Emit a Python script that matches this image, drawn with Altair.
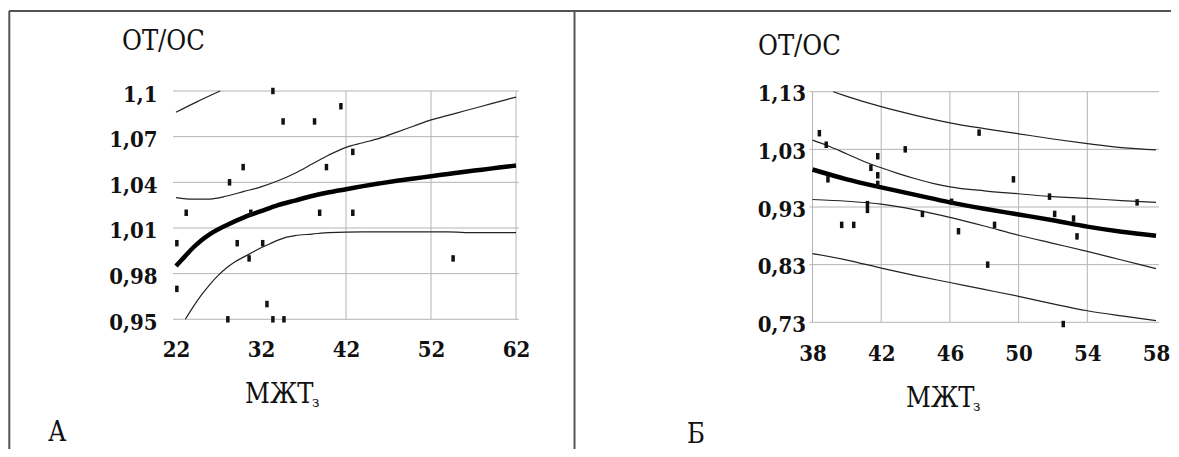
import altair as alt
import pandas as pd

# ---------------- Panel A ----------------
a_pts_x = [23.2, 22.1, 22.1, 28.3, 29.9, 30.8, 29.2, 30.6, 32.2, 32.7, 28.1, 33.4, 34.7,
           33.4, 34.6, 38.3, 41.4, 39.7, 42.8, 38.9, 42.8, 54.6]
a_pts_y = [1.02, 1.00, 0.97, 1.04, 1.05, 1.02, 1.00, 0.99, 1.00, 0.96, 0.95, 0.95, 0.95,
           1.10, 1.08, 1.08, 1.09, 1.05, 1.06, 1.02, 1.02, 0.99]

a_fit_x = [22, 23, 24, 25, 26, 28, 30, 32, 34, 36, 38, 40, 42, 44, 46, 48, 50, 52, 54, 56, 58, 60, 62]
a_fit_y = [0.985, 0.991, 0.997, 1.002, 1.006, 1.012, 1.017, 1.021, 1.025, 1.028, 1.031, 1.0335,
           1.0355, 1.0375, 1.0393, 1.041, 1.0425, 1.044, 1.0455, 1.047, 1.0483, 1.0497, 1.051]

a_up_x = [22, 24, 26, 28, 30, 32, 34, 36, 38, 40, 42, 44, 46, 48, 50, 52, 54, 56, 58, 60, 62]
a_up_y = [1.030, 1.029, 1.029, 1.031, 1.034, 1.037, 1.041, 1.046, 1.052, 1.058, 1.063, 1.066,
          1.069, 1.073, 1.077, 1.081, 1.084, 1.087, 1.090, 1.093, 1.096]

a_lo_x = [23.1, 24, 25, 26, 27, 28, 29, 30, 31, 32, 33, 34, 35, 36, 38, 40, 44, 50, 54, 56, 62]
a_lo_y = [0.950, 0.958, 0.966, 0.973, 0.979, 0.984, 0.988, 0.991, 0.994, 0.997, 0.9995, 1.002,
          1.004, 1.005, 1.006, 1.007, 1.0075, 1.0075, 1.0075, 1.007, 1.007]

a_top_x = [22.0, 24.5, 27.2]
a_top_y = [1.086, 1.093, 1.100]

a_xticks = [22, 32, 42, 52, 62]
a_yticks = [0.95, 0.98, 1.01, 1.04, 1.07, 1.1]
a_vgrid = [42, 52, 62]

# ---------------- Panel Б ----------------
b_pts_x = [38.4, 38.8, 38.9, 39.7, 40.4, 41.2, 41.2, 41.4, 41.8, 41.8, 41.8, 43.4, 44.4,
           46.1, 47.7, 46.5, 48.6, 48.2, 49.7, 51.8, 52.1, 53.2, 53.4, 52.6, 56.9]
b_pts_y = [1.058, 1.038, 0.978, 0.899, 0.899, 0.925, 0.935, 0.998, 1.018, 0.970, 0.985,
           1.030, 0.918, 0.939, 1.059, 0.888, 0.899, 0.830, 0.978, 0.948, 0.918, 0.910,
           0.879, 0.727, 0.938]

b_top_x = [39.2, 40, 42, 44, 46, 48, 50, 52, 54, 56, 58]
b_top_y = [1.130, 1.122, 1.104, 1.089, 1.076, 1.066, 1.057, 1.048, 1.040, 1.033, 1.029]

b_up_x = [38, 39, 40, 41, 42, 43, 44, 45, 46, 48, 50, 52, 54, 56, 58]
b_up_y = [1.046, 1.035, 1.022, 1.009, 0.998, 0.988, 0.979, 0.971, 0.965, 0.958, 0.953,
          0.948, 0.945, 0.941, 0.938]

b_fit_x = [38, 40, 42, 44, 46, 48, 50, 52, 54, 56, 58]
b_fit_y = [0.995, 0.978, 0.964, 0.951, 0.938, 0.927, 0.917, 0.907, 0.896, 0.887, 0.880]

b_lo_x = [38, 40, 42, 44, 46, 48, 50, 52, 54, 56, 58]
b_lo_y = [0.943, 0.940, 0.935, 0.925, 0.912, 0.897, 0.881, 0.867, 0.853, 0.838, 0.823]

b_bot_x = [38, 40, 42, 44, 46, 48, 50, 52, 54, 56, 58]
b_bot_y = [0.849, 0.838, 0.824, 0.811, 0.799, 0.787, 0.775, 0.762, 0.750, 0.741, 0.733]

b_xticks = [38, 42, 46, 50, 54, 58]
b_yticks = [0.73, 0.83, 0.93, 1.03, 1.13]
b_vgrid = [38, 42, 46, 50, 54]

# ---------------- Texts ----------------
y_title = "ОТ/ОС"
x_title_main = "МЖТ"
x_title_sub = "з"
panel_letters = ["А", "Б"]

W, H = 1163, 441
FONT = "DejaVu Serif Condensed, DejaVu Serif"
LABEL_EXPR = "replace(format(datum.value, '.2~f'), '.', ',')"
MARK_PATH = "M-0.54,-1L0.54,-1L0.54,1L-0.54,1Z"


def panel(pts_x, pts_y, thin_curves, fit, xticks, yticks, vgrid, xdom, ydom,
          xrange, yrange, ylabpad, xlabpad, ylaboff):
    xs = alt.Scale(domain=xdom, range=xrange, nice=False, zero=False)
    ys = alt.Scale(domain=ydom, range=yrange, nice=False, zero=False)
    xaxis = alt.Axis(orient="bottom", offset=yrange[0] - H, values=xticks, labelExpr=LABEL_EXPR,
                     grid=False, domain=False, ticks=False, title=None, labelFont=FONT,
                     labelFontSize=22, labelFontWeight="bold", labelColor="#111",
                     labelPadding=xlabpad, labelFlush=False, labelOverlap=False)
    yaxis = alt.Axis(orient="left", offset=-xrange[0], values=yticks, labelExpr=LABEL_EXPR,
                     grid=False, domain=False, ticks=False, title=None, labelFont=FONT,
                     labelFontSize=22, labelFontWeight="bold", labelColor="#111",
                     labelPadding=ylabpad, labelOffset=ylaboff, labelFlush=False,
                     labelOverlap=False)

    layers = []
    ext = 0.35 * (xdom[1] - xdom[0]) / 40
    hgrid = alt.Chart(pd.DataFrame({"v": yticks})).mark_rule(color="#b4b4b4", strokeWidth=1).encode(
        y=alt.Y("v:Q", scale=ys, axis=yaxis),
        x=alt.X(datum=xdom[0] - ext, scale=xs, axis=xaxis),
        x2=alt.X2(datum=xdom[1] + ext),
    )
    layers.append(hgrid)
    vg = alt.Chart(pd.DataFrame({"v": vgrid})).mark_rule(color="#b4b4b4", strokeWidth=1).encode(
        x=alt.X("v:Q", scale=xs, axis=xaxis),
        y=alt.Y(datum=ydom[0], scale=ys, axis=yaxis),
        y2=alt.Y2(datum=ydom[1]),
    )
    layers.append(vg)
    for cx, cy in thin_curves:
        layers.append(
            alt.Chart(pd.DataFrame({"x": cx, "y": cy})).mark_line(
                color="#222", strokeWidth=1.2, interpolate="monotone").encode(
                x=alt.X("x:Q", scale=xs, axis=xaxis), y=alt.Y("y:Q", scale=ys, axis=yaxis))
        )
    layers.append(
        alt.Chart(pd.DataFrame({"x": fit[0], "y": fit[1]})).mark_line(
            color="#000", strokeWidth=4.5, interpolate="monotone").encode(
            x=alt.X("x:Q", scale=xs, axis=xaxis), y=alt.Y("y:Q", scale=ys, axis=yaxis))
    )
    layers.append(
        alt.Chart(pd.DataFrame({"x": pts_x, "y": pts_y})).mark_point(
            shape=MARK_PATH, filled=True, color="#111", opacity=1, size=42).encode(
            x=alt.X("x:Q", scale=xs, axis=xaxis), y=alt.Y("y:Q", scale=ys, axis=yaxis))
    )
    return alt.layer(*layers)


A = panel(a_pts_x, a_pts_y,
          [(a_up_x, a_up_y), (a_lo_x, a_lo_y), (a_top_x, a_top_y)],
          (a_fit_x, a_fit_y), a_xticks, a_yticks, a_vgrid,
          [22, 62], [0.95, 1.1], [168, 508], [311.3, 83], 19, 20, 3)
B = panel(b_pts_x, b_pts_y,
          [(b_top_x, b_top_y), (b_up_x, b_up_y), (b_lo_x, b_lo_y), (b_bot_x, b_bot_y)],
          (b_fit_x, b_fit_y), b_xticks, b_yticks, b_vgrid,
          [38, 58], [0.73, 1.13], [804.5, 1148.0], [314.3, 83.7], 7, 21, 2)


def txt(s, x, y, size, weight="normal"):
    return alt.Chart(pd.DataFrame({"t": [s]})).mark_text(
        font=FONT, fontSize=size, fontWeight=weight, align="left", baseline="alphabetic",
        color="#111").encode(x=alt.value(x), y=alt.value(y), text="t:N")


def rule(x, y, x2=None, y2=None):
    enc = {"x": alt.value(x), "y": alt.value(y)}
    if x2 is not None:
        enc["x2"] = alt.value(x2)
    if y2 is not None:
        enc["y2"] = alt.value(y2)
    return alt.Chart(pd.DataFrame({"k": [0]})).mark_rule(color="#555", strokeWidth=2).encode(**enc)


decor = [
    rule(1, 3, x2=W),
    rule(1.3, 3, y2=H),
    rule(566.5, 3, y2=H),
    txt(y_title, 114, 42, 27),
    txt(y_title, 750, 47, 27),
    txt(x_title_main, 237, 395, 27),
    txt(x_title_sub, 304, 399, 15),
    txt(x_title_main, 898, 399, 27),
    txt(x_title_sub, 965, 403, 15),
    txt(panel_letters[0], 40, 433, 27),
    txt(panel_letters[1], 679, 435, 27),
]

chart = alt.layer(A, B, *decor).resolve_scale(x="independent", y="independent").properties(
    width=W, height=H, autosize=alt.AutoSizeParams(type="none"), padding=0
).configure_view(stroke=None)

chart.save("out.html", embed_options={"renderer": "svg", "actions": False})
